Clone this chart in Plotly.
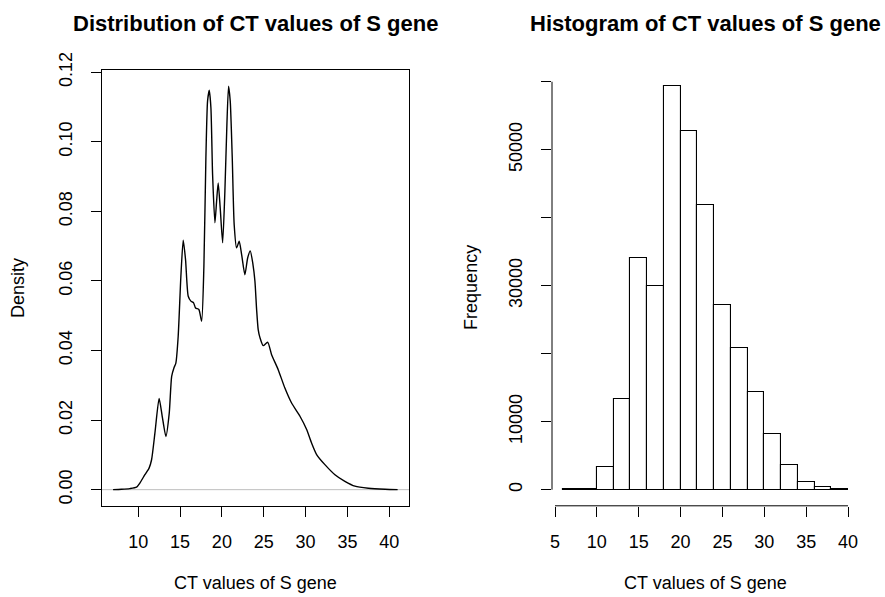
import plotly.graph_objects as go

# ---- Data ----
ct_x = [7.0, 8.0, 9.0, 9.8, 10.2, 10.8, 11.3, 11.6, 12.0, 12.5, 12.87, 13.31, 13.71,
        14.0, 14.27, 14.5, 14.78, 15.1, 15.38, 15.66, 15.98, 16.3, 16.62, 16.86,
        17.25, 17.58, 17.85, 18.09, 18.29, 18.49, 18.69, 18.89, 19.17, 19.37, 19.56,
        19.8, 20.09, 20.36, 20.6, 20.8, 21.0, 21.24, 21.47, 21.76, 22.07, 22.36,
        22.75, 23.08, 23.39, 23.7, 23.95, 24.15, 24.34, 24.55, 24.94, 25.47, 25.94,
        26.73, 27.53, 28.33, 29.33, 30.13, 30.72, 31.32, 32.31, 33.51, 34.7, 35.9,
        37.5, 39.5, 41.0]
density = [0.0000, 0.0001, 0.0003, 0.0007, 0.0019, 0.0043, 0.0062, 0.0086, 0.0163,
           0.0262, 0.0211, 0.0153, 0.0220, 0.0326, 0.0350, 0.0364, 0.0441, 0.0613,
           0.0717, 0.0661, 0.0556, 0.0542, 0.0537, 0.0522, 0.0518, 0.0484, 0.0640,
           0.0954, 0.1117, 0.1148, 0.1098, 0.0906, 0.0767, 0.0829, 0.0882, 0.0810,
           0.0710, 0.0858, 0.1050, 0.1160, 0.1117, 0.0954, 0.0762, 0.0695, 0.0714,
           0.0676, 0.0618, 0.0666, 0.0686, 0.0650, 0.0599, 0.0518, 0.0460, 0.0437,
           0.0414, 0.0424, 0.0388, 0.0345, 0.0292, 0.0249, 0.0211, 0.0173, 0.0134,
           0.0101, 0.0072, 0.0043, 0.0024, 0.0010, 0.0004, 0.0001, 0.0000]

bin_edges = [6, 8, 10, 12, 14, 16, 18, 20, 22, 24, 26, 28, 30, 32, 34, 36, 38, 40]
counts = [40, 150, 3400, 13400, 34000, 30000, 59350, 52700, 41800, 27200, 20900,
          14400, 8200, 3700, 1200, 350, 100]

dens_xticks = [10, 15, 20, 25, 30, 35, 40]
dens_yticks = [0.00, 0.02, 0.04, 0.06, 0.08, 0.10, 0.12]
hist_xticks = [5, 10, 15, 20, 25, 30, 35, 40]
hist_yticks = [0, 10000, 20000, 30000, 40000, 50000, 60000]
hist_ytext = ["0", "10000", "", "30000", "", "50000", ""]

title_left = "Distribution of CT values of S gene"
title_right = "Histogram of CT values of S gene"
xlab = "CT values of S gene"

# ---- Derived ----
bin_centers = [(a + b) / 2 for a, b in zip(bin_edges[:-1], bin_edges[1:])]
bin_widths = [b - a for a, b in zip(bin_edges[:-1], bin_edges[1:])]

def ext(lo, hi):
    w = hi - lo
    return [lo - 0.04 * w, hi + 0.04 * w]

W, H = 885, 597
FONT = "Liberation Sans"
xdom1 = [101.7 / W, 409.0 / W]
xdom2 = [552.0 / W, 859.4 / W]
ydom = [1 - 505.8 / H, 1 - 70.0 / H]

fig = go.Figure()
fig.add_trace(go.Scatter(
    x=ct_x, y=density, mode="lines",
    line=dict(color="black", width=1.4, shape="spline", smoothing=0.6),
    xaxis="x", yaxis="y", hoverinfo="skip"))
fig.add_trace(go.Bar(
    x=bin_centers, y=counts, width=bin_widths,
    marker=dict(color="white", line=dict(color="black", width=1.1)),
    xaxis="x2", yaxis="y2", hoverinfo="skip"))

tickfont = dict(family=FONT, size=18, color="black")
common = dict(showgrid=False, zeroline=False, ticks="outside", ticklen=10,
              tickwidth=1, tickcolor="black", tickfont=tickfont, automargin=False)

fig.update_layout(
    width=W, height=H, margin=dict(l=0, r=0, t=0, b=0, pad=0, autoexpand=False),
    paper_bgcolor="white", plot_bgcolor="white", showlegend=False,
    bargap=0,
    xaxis=dict(domain=xdom1, range=ext(min(ct_x), max(ct_x)), anchor="y",
               tickvals=dens_xticks, showline=True, mirror=True,
               linecolor="black", linewidth=1, ticklabelstandoff=10, **common),
    yaxis=dict(domain=ydom, range=ext(0, max(density)), anchor="x",
               tickvals=dens_yticks, ticktext=[f"{v:.2f}" for v in dens_yticks],
               tickangle=-90, showline=True, mirror=True,
               linecolor="black", linewidth=1, ticklabelstandoff=12, **common),
    xaxis2=dict(domain=xdom2, range=ext(bin_edges[0], bin_edges[-1]), anchor="y2",
                tickvals=hist_xticks, showline=False, ticklabelstandoff=10, **common),
    yaxis2=dict(domain=ydom, range=ext(0, max(counts)), anchor="x2",
                tickvals=hist_yticks, ticktext=hist_ytext, tickangle=-90,
                showline=False, ticklabelstandoff=12, **common),
)

# R-style axis lines spanning first to last tick (histogram panel)
fig.add_shape(type="line", xref="x2 domain", yref="y2", x0=0, x1=0,
              y0=hist_yticks[0], y1=hist_yticks[-1], line=dict(color="black", width=1))
fig.add_shape(type="line", xref="x2", yref="y2 domain", x0=hist_xticks[0],
              x1=hist_xticks[-1], y0=0, y1=0, line=dict(color="black", width=1))
# zero line of density plot
fig.add_shape(type="line", xref="x domain", yref="y", x0=0, x1=1, y0=0, y1=0,
              line=dict(color="#BEBEBE", width=1), layer="below")

cx1 = (xdom1[0] + xdom1[1]) / 2
cx2 = (xdom2[0] + xdom2[1]) / 2
cy = (ydom[0] + ydom[1]) / 2
tfont = dict(family=FONT, size=22, color="black", weight="bold")
lfont = dict(family=FONT, size=18, color="black")
ann = [
    dict(text=title_left, x=cx1, y=1 - 23 / H, font=tfont),
    dict(text=title_right, x=cx2, y=1 - 23 / H, font=tfont),
    dict(text=xlab, x=cx1, y=1 - 583 / H, font=lfont),
    dict(text=xlab, x=cx2, y=1 - 583 / H, font=lfont),
    dict(text="Density", x=18 / W, y=cy, font=lfont, textangle=-90),
    dict(text="Frequency", x=471 / W, y=cy, font=lfont, textangle=-90),
]
for a in ann:
    fig.add_annotation(xref="paper", yref="paper", showarrow=False,
                       xanchor="center", yanchor="middle", **a)

fig.write_html("out.html", config={"displayModeBar": False},
               post_script="document.body.style.margin='0px';")
